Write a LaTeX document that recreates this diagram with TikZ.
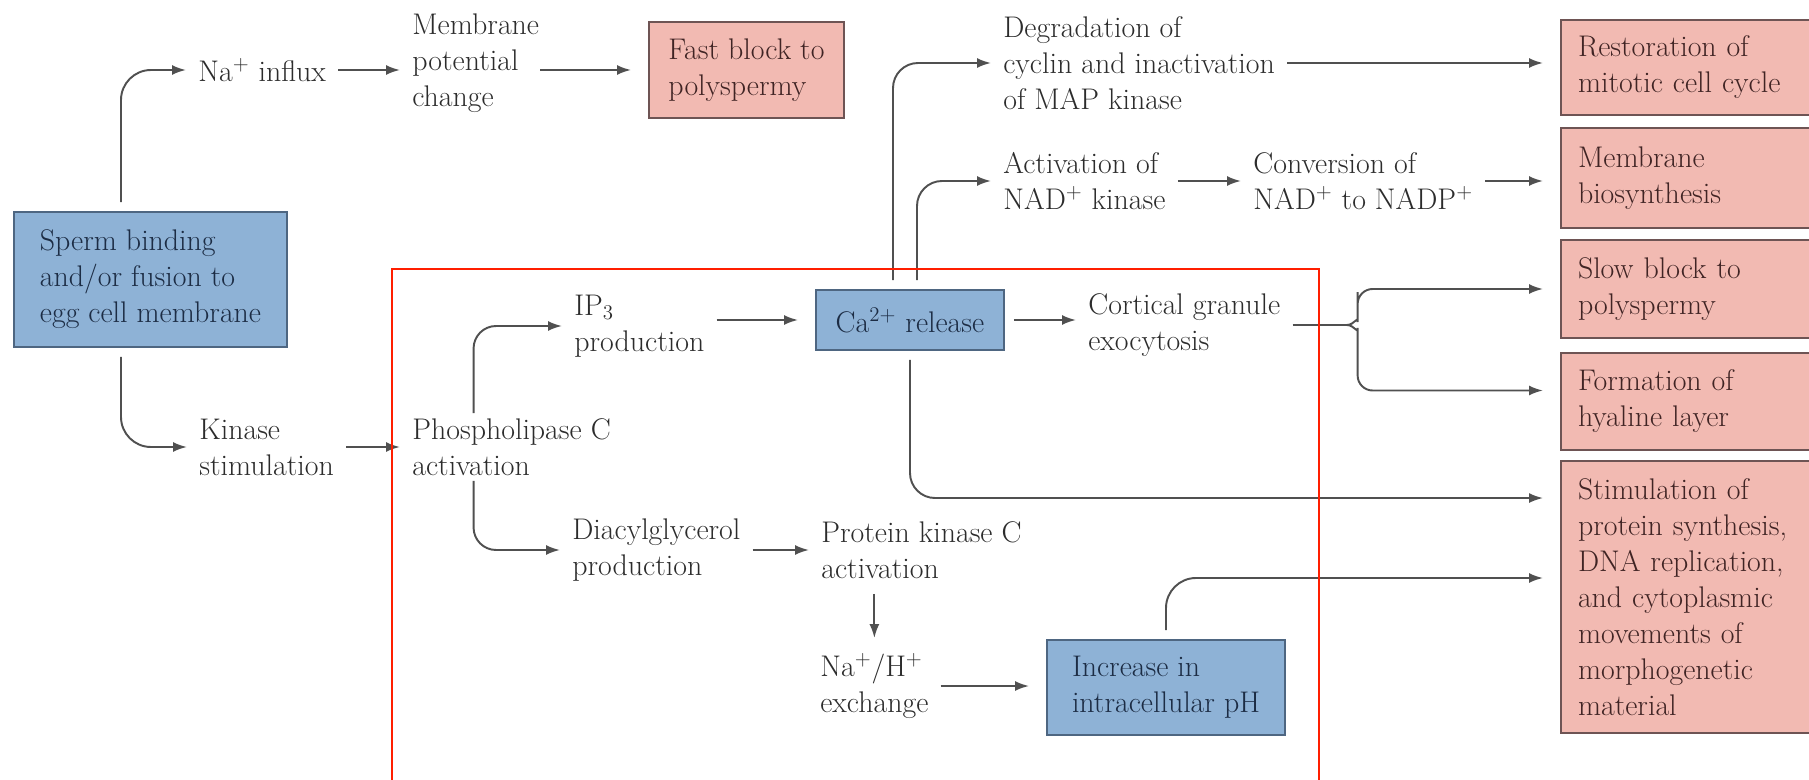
\documentclass[tikz,border=0pt]{standalone}
\usepackage{xcolor}
\definecolor{boxblue}{HTML}{8EB2D6}
\definecolor{boxbluedark}{HTML}{4E6681}
\definecolor{bluetext}{HTML}{1C2C44}
\definecolor{boxpink}{HTML}{F2BAB2}
\definecolor{boxpinkdark}{HTML}{6E5454}
\definecolor{pinktext}{HTML}{402424}
\definecolor{linegray}{HTML}{505050}
\definecolor{textgray}{HTML}{2C2C2C}
\definecolor{framered}{HTML}{FF1E00}
\usepackage{fontspec}
\usepackage{tikz}
\usetikzlibrary{arrows.meta, calc}

\tikzset{
	plain/.style={anchor=west, align=left, inner xsep=0.24cm, inner ysep=0.1cm, text=textgray},
	bluebox/.style={draw=boxbluedark, fill=boxblue, line width=1.2pt, align=left, text=bluetext, outer sep=0.2cm},
	pinkbox/.style={draw=boxpinkdark, fill=boxpink, line width=1.2pt, align=left, text=pinktext, inner xsep=0.34cm, outer sep=0.2cm},
	flow/.style={draw=linegray, line width=1.1pt, -{Latex[length=0.28cm, width=0.2cm]}},
	tobox/.style={flow, shorten >=0.16cm},
}

\begin{document}
\begin{tikzpicture}[x=0.02cm, y=-0.02cm, font=\fontsize{17}{20.5}\selectfont]
	
	\useasboundingbox (0, 0) rectangle (1809, 780);
	\clip (0, 0) rectangle (1809, 780);
	
	\node[bluebox, minimum width=5.46cm, minimum height=2.7cm] (sperm) at (150.5, 279.5) {Sperm binding\\and/or fusion to\\egg cell membrane};
	\node[bluebox, minimum width=3.76cm, minimum height=1.2cm] (ca) at (910, 320) {Ca\textsuperscript{2+} release};
	\node[bluebox, minimum width=4.76cm, minimum height=1.9cm] (ph) at (1166, 687.5) {Increase in\\intracellular pH};
	\node[pinkbox, minimum width=3.9cm, minimum height=1.92cm, inner xsep=0.2cm] (fast) at (746.5, 70) {Fast block to\\polyspermy};
	
	\foreach \nm/\yc/\hh/\txt in {
		restore/67.5/1.9/{Restoration of\\mitotic cell cycle},
		biosyn/178/2.0/{Membrane\\biosynthesis},
		slow/289/1.96/{Slow block to\\polyspermy},
		hyal/401.5/1.94/{Formation of\\hyaline layer},
		stim/597/5.44/{Stimulation of\\protein synthesis,\\DNA replication,\\and cytoplasmic\\movements of\\morphogenetic\\material}} {
		\node[pinkbox, anchor=west, text width=5.6cm, minimum height=\hh cm] (\nm) at (1551, \yc) {\txt};
	}
	
	\node[plain] (na) at (186, 70) {Na\textsuperscript{+} influx};
	\node[plain] (memb) at (400, 63) {Membrane\\potential\\change};
	\node[plain] (kin) at (187, 447) {Kinase\\stimulation};
	\node[plain] (plc) at (400, 447) {Phospholipase C\\activation};
	\node[plain] (ip3) at (562, 326) {IP\textsubscript{3}\\production};
	\node[plain] (diac) at (560, 550) {Diacylglycerol\\production};
	\node[plain] (pkc) at (809, 550) {Protein kinase C\\activation};
	\node[plain] (nah) at (808, 686) {Na\textsuperscript{+}/H\textsuperscript{+}\\exchange};
	\node[plain] (degr) at (991, 63) {Degradation of\\cyclin and inactivation\\of MAP kinase};
	\node[plain] (act) at (991, 181) {Activation of\\NAD\textsuperscript{+} kinase};
	\node[plain] (conv) at (1241, 181) {Conversion of\\NAD\textsuperscript{+} to NADP\textsuperscript{+}};
	\node[plain] (cort) at (1076, 325) {Cortical granule\\exocytosis};
	
	\draw[flow, rounded corners=0.6cm] ([xshift=-0.59cm]sperm.north) |- (na.west);
	\draw[flow, rounded corners=0.6cm] ([xshift=-0.59cm]sperm.south) |- (kin.west);
	\draw[flow] (na.east) -- (na.east -| memb.west);
	\draw[tobox] (na.east -| memb.east) ++(-11, 0) -- (na.east -| fast.west);
	\draw[flow] (kin.east) -- (plc.west);
	
	\draw[flow, rounded corners=0.45cm] ([xshift=-0.76cm]plc.north) |- (ip3.west);
	\draw[flow, rounded corners=0.45cm] ([xshift=-0.76cm]plc.south) |- (diac.west);
	\draw[tobox] (ip3.east |- ca.west) -- (ca.west);
	\draw[flow] (diac.east) -- (pkc.west);
	\draw[flow, shorten <=0.2cm, shorten >=0.2cm] (nah.north |- pkc.south) -- (nah.north);
	\draw[tobox] (nah.east) -- (nah.east -| ph.west);
	
	\draw[flow] (ca.east) -- (ca.east -| cort.west);
	\draw[flow, rounded corners=0.5cm] ([xshift=-0.34cm]ca.north) |- (degr.west);
	\draw[flow, rounded corners=0.5cm] ([xshift=0.14cm]ca.north) |- (act.west);
	\draw[tobox, rounded corners=0.5cm] (ca.south) |- ([yshift=1.98cm]stim.west);
	\draw[tobox, rounded corners=0.6cm] (ph.north) |- ([yshift=0.38cm]stim.west);
	
	\draw[tobox] (degr.east) -- (degr.east -| restore.west);
	\draw[flow] (act.east) -- (act.east -| conv.west);
	\draw[tobox] (conv.east) -- (conv.east -| biosyn.west);
	
	\path (cort.east) ++(54, 0) coordinate (brc);
	\draw[linegray, line width=1.1pt] (cort.east) -- (brc);
	\draw[tobox, rounded corners=0.3cm] (brc) to[out=0, in=-90] ++(11, -18) |- (slow.west);
	\draw[tobox, rounded corners=0.3cm] (brc) to[out=0, in=90] ++(11, 18) |- ([yshift=0.22cm]hyal.west);
	
	\draw[framered, line width=1.2pt] (392, 800) |- (1319, 269) -- (1319, 800);
\end{tikzpicture}
\end{document}
